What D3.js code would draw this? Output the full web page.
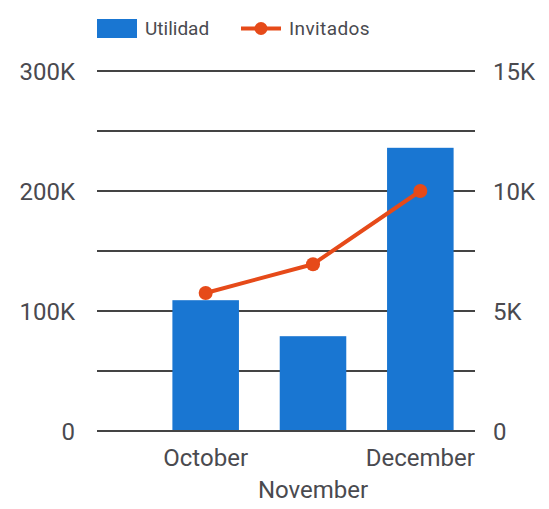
<!DOCTYPE html>
<html>
<head>
<meta charset="utf-8">
<script src="https://cdn.jsdelivr.net/npm/d3@7"></script>
<style>
  html, body { margin: 0; padding: 0; background: #fff; }
  svg { display: block; font-family: Roboto, "Noto Sans", sans-serif; }
</style>
</head>
<body>
<svg id="chart" width="549" height="509"></svg>
<script>
const categories = ["October", "November", "December"];
const utilidad = [109000, 79000, 236000];
const invitados = [5750, 6950, 10000];
const leftTicks = [0, 100000, 200000, 300000];
const leftTickLabels = ["0", "100K", "200K", "300K"];
const rightTicks = [0, 5000, 10000, 15000];
const rightTickLabels = ["0", "5K", "10K", "15K"];
const gridTicks = [0, 50000, 100000, 150000, 200000, 250000, 300000];
const seriesNames = ["Utilidad", "Invitados"];

const barColor = "#1976d2";
const lineColor = "#e64a19";
const textColor = "#4a4a4f";
const gridColor = "#444";

const svg = d3.select("#chart");
const plotLeft = 97, plotRight = 475, plotTop = 71, plotBottom = 431;

const x = d3.scaleBand().domain(categories).range([152, 474])
  .paddingInner(0.38).paddingOuter(0.19);
const yL = d3.scaleLinear().domain([0, 300000]).range([plotBottom, plotTop]);
const yR = d3.scaleLinear().domain([0, 15000]).range([plotBottom, plotTop]);

// gridlines
svg.append("g").selectAll("line").data(gridTicks).join("line")
  .attr("x1", plotLeft).attr("x2", plotRight)
  .attr("y1", d => yL(d)).attr("y2", d => yL(d))
  .attr("stroke", gridColor).attr("stroke-width", 2);

// left axis labels
svg.append("g").selectAll("text").data(leftTicks).join("text")
  .attr("x", 75).attr("y", d => yL(d) + 8.5)
  .attr("text-anchor", "end").attr("fill", textColor)
  .attr("font-size", 24)
  .text((d, i) => leftTickLabels[i]);

// right axis labels
svg.append("g").selectAll("text").data(rightTicks).join("text")
  .attr("x", 493).attr("y", d => yR(d) + 8.5)
  .attr("text-anchor", "start").attr("fill", textColor)
  .attr("font-size", 24)
  .text((d, i) => rightTickLabels[i]);

// bars
svg.append("g").selectAll("rect").data(categories).join("rect")
  .attr("x", d => x(d)).attr("width", x.bandwidth())
  .attr("y", (d, i) => yL(utilidad[i]))
  .attr("height", (d, i) => yL(0) - yL(utilidad[i]))
  .attr("fill", barColor);

// redraw baseline over bars
svg.append("line")
  .attr("x1", plotLeft).attr("x2", plotRight)
  .attr("y1", yL(0)).attr("y2", yL(0))
  .attr("stroke", gridColor).attr("stroke-width", 2);

// line
const cx = d => x(d) + x.bandwidth() / 2;
const line = d3.line().x((d, i) => cx(categories[i])).y(d => yR(d));
svg.append("path").datum(invitados)
  .attr("d", line).attr("fill", "none")
  .attr("stroke", lineColor).attr("stroke-width", 4)
  .attr("stroke-linejoin", "round");
svg.append("g").selectAll("circle").data(invitados).join("circle")
  .attr("cx", (d, i) => cx(categories[i])).attr("cy", d => yR(d))
  .attr("r", 7).attr("fill", lineColor);

// x labels (staggered)
svg.append("g").selectAll("text").data(categories).join("text")
  .attr("x", d => cx(d))
  .attr("y", (d, i) => i % 2 === 0 ? 466 : 498)
  .attr("text-anchor", "middle").attr("fill", textColor)
  .attr("font-size", 24)
  .text(d => d);

// legend
const lg = svg.append("g");
lg.append("rect").attr("x", 97).attr("y", 19).attr("width", 40).attr("height", 19).attr("fill", barColor);
lg.append("text").attr("x", 145).attr("y", 35).attr("fill", textColor)
  .attr("font-size", 19).text(seriesNames[0]);
lg.append("line").attr("x1", 241).attr("x2", 281).attr("y1", 28.5).attr("y2", 28.5)
  .attr("stroke", lineColor).attr("stroke-width", 4);
lg.append("circle").attr("cx", 261).attr("cy", 28.5).attr("r", 6.5).attr("fill", lineColor);
lg.append("text").attr("x", 289).attr("y", 35).attr("fill", textColor)
  .attr("font-size", 19).attr("letter-spacing", 0.4).text(seriesNames[1]);
</script>
</body>
</html>
